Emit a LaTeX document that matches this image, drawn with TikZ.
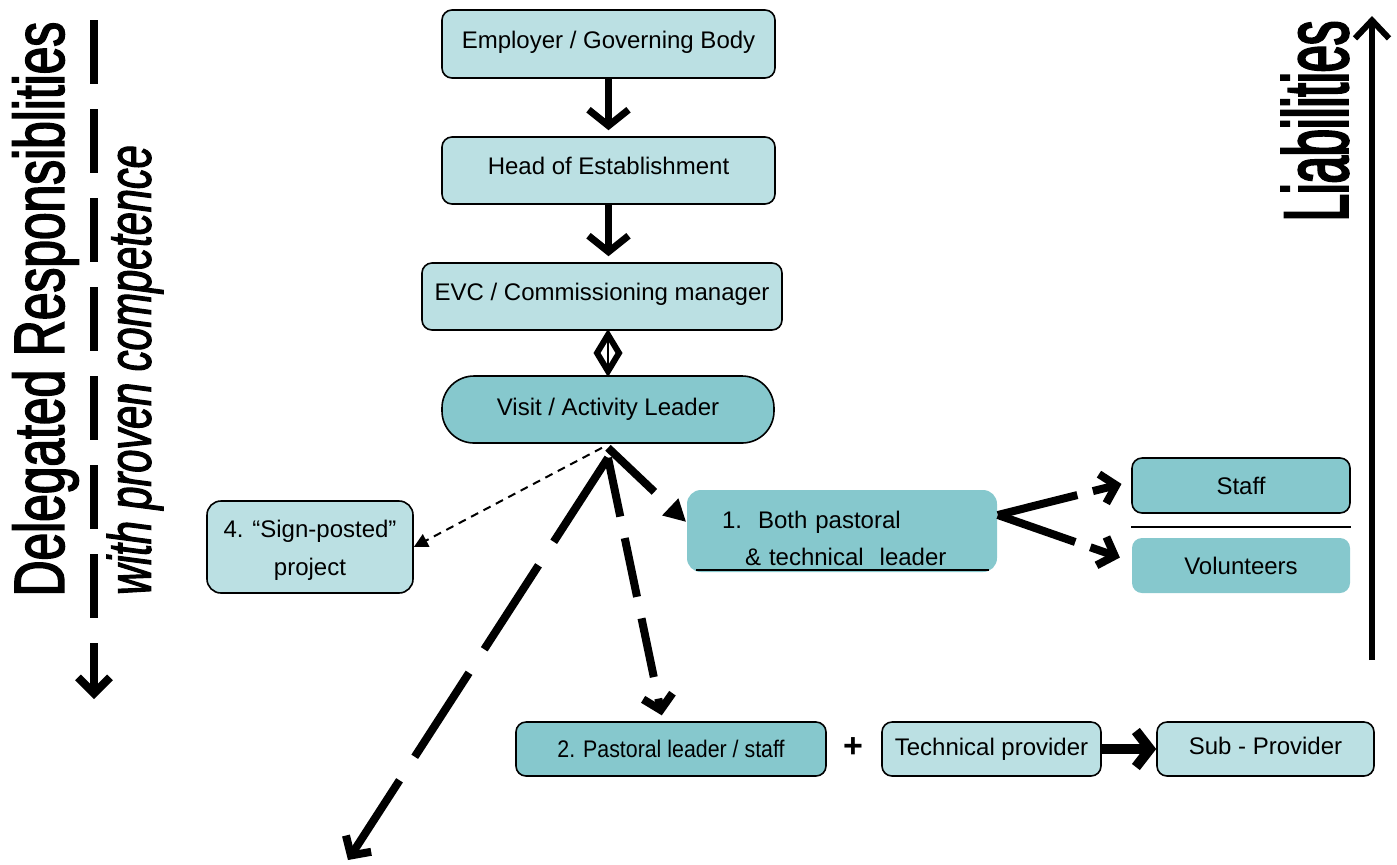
\documentclass[tikz,border=0pt]{standalone}
\usepackage{fontspec}
\setmainfont{Liberation Sans}
\newfontfamily\delfont[FakeStretch=0.70,FakeBold=2.2]{Liberation Sans}
\newfontfamily\withfont[FakeStretch=0.68,FakeBold=1.8]{Liberation Sans}
\newfontfamily\liabfont[FakeStretch=0.53,FakeBold=2.3]{Liberation Sans}
\newfontfamily\narrowfont[FakeStretch=0.89]{Liberation Sans}
\usetikzlibrary{arrows.meta,calc}
\definecolor{lightc}{RGB}{187,224,227}
\definecolor{darkc}{RGB}{134,200,205}
\tikzset{
  box/.style={draw=black, line width=0.8pt, rounded corners=5pt, inner sep=0pt, align=center,
              font=\fontsize{12}{14}\selectfont},
  lightbox/.style={fill=lightc},
  darkbox/.style={fill=darkc},
  topbox/.style={text height=9pt, text depth=5pt},
  chev/.style={-{Straight Barb[length=8pt,width=20pt]}},
  thickarr/.style={line width=3.5pt, chev},
  bigdash/.style={line width=4pt, -{Straight Barb[length=7pt,width=15pt]}},
  thindash/.style={line width=1pt, dash pattern=on 4pt off 3pt, -{Triangle[length=7pt,width=7pt]}},
}
\begin{document}
\begin{tikzpicture}[x=0.5pt,y=-0.5pt]
\useasboundingbox (0,0) rectangle (1397,864);

% side labels
\node[rotate=90, font=\delfont\fontsize{35.5}{36}\selectfont, inner sep=0pt] (deleg) at (45.5,309) {Delegated Responsiblities};
\node[rotate=90, font=\withfont\itshape\fontsize{30.5}{31}\selectfont, inner sep=0pt] (withp) at (135,370) {with proven competence};
\node[rotate=90, font=\liabfont\fontsize{46}{46}\selectfont, inner sep=0pt] (liab) at (1315,121) {Liabilities};

% left axis
\coordinate (ltop) at (94,20);
\coordinate (lbot) at (94,699);
\draw[line width=4pt, dash pattern=on 32pt off 12.5pt, -{Straight Barb[length=8pt,width=16pt]}] (ltop) -- (lbot);
% right axis
\coordinate (rbot) at (1372,660);
\coordinate (rtop) at (1372,16);
\draw[line width=3pt, -{Straight Barb[length=9pt,width=17pt]}] (rbot) -- (rtop);

% main boxes
\node[box,lightbox,topbox,minimum width=166.5pt,minimum height=34pt] (emp) at (608.5,44) {Employer / Governing Body};
\node[box,lightbox,topbox,minimum width=166.5pt,minimum height=33.5pt] (head) at (608.5,170.5) {Head of Establishment};
\node[box,lightbox,topbox,minimum width=180pt,minimum height=33.5pt] (evc) at (602,296.5) {EVC / Commissioning manager};
\node[box,darkbox,rounded corners=16pt,minimum width=166pt,minimum height=33.5pt] (visit) at (608,409.5) {Visit / Activity Leader};
\node[box,lightbox,rounded corners=7pt,minimum width=103pt,minimum height=46pt] (sign) at (310,547) {\rule{0pt}{12pt}4. “Sign-posted”\\[5pt]project};
\node[box,darkbox,draw=none,rounded corners=7pt,minimum width=155pt,minimum height=41pt,text width=120pt,inner xsep=17.5pt,align=left,text depth=11pt] (both) at (842,531) {1.\ \ Both pastoral\\[4.5pt]\hspace*{11.5pt}\& technical\ \ leader};
\node[box,darkbox,minimum width=109pt,minimum height=27.5pt] (staff) at (1241,485.5) {Staff};
\node[box,darkbox,draw=none,minimum width=109pt,minimum height=27.5pt] (vol) at (1241,565.5) {Volunteers};
\node[box,darkbox,minimum width=155pt,minimum height=27pt,font=\narrowfont\fontsize{12}{14}\selectfont] (past) at (671,749) {2. Pastoral leader / staff};
\node[font=\fontsize{17}{17}\selectfont\bfseries, inner sep=0pt] (plus) at (853,748) {+};
\node[box,lightbox,minimum width=109.5pt,minimum height=27pt] (tech) at (991.5,749) {Technical provider};
\node[box,lightbox,minimum width=108.5pt,minimum height=27pt,text height=9pt,text depth=4pt] (sub) at (1265.5,749) {Sub - Provider};

% underline in box 1 and separator
\draw[line width=1pt] ([xshift=5pt,yshift=1.5pt]both.south west) -- ([xshift=-4.5pt,yshift=1.5pt]both.south east);
\draw[line width=1pt] ([yshift=-6.5pt]staff.south west) -- ([yshift=-6.5pt]staff.south east);

% vertical chain
\draw[thickarr, shorten >=3pt] (emp.south) -- (head.north);
\draw[thickarr, shorten >=3pt] (head.south) -- (head.south |- evc.north);
% double arrow (diamond) between EVC and Visit
\coordinate (dtop) at ([yshift=-2pt]evc.south -| visit.north);
\coordinate (dbot) at ([yshift=2pt]visit.north);
\coordinate (dmid) at ($(dtop)!0.5!(dbot)$);
\draw[line width=3pt, line join=miter] (dtop) -- ($(dmid)+(11,0)$) -- (dbot) -- ($(dmid)+(-11,0)$) -- cycle;
\draw[line width=0.8pt] ($(dtop)+(0,6)$) -- ($(dbot)+(0,-6)$);

% from visit leader
\coordinate (apex) at ([yshift=-7pt]visit.south);
\coordinate (farleft) at (348,860);
\draw[thindash] ([xshift=-3pt,yshift=-2pt]visit.south) -- (sign.east);
\draw[line width=4pt, dash pattern=on 32pt off 40pt, -{Triangle[length=11pt,width=11pt]}] ([yshift=-2pt]visit.south) -- ([yshift=4.5pt]both.west);
\draw[bigdash, dash pattern=on 30pt off 11pt, shorten >=3pt] (apex) -- ([xshift=-4pt]past.north);
\draw[bigdash, dash pattern=on 50pt off 14pt] (apex) -- (farleft);

% from box 1 to staff / volunteers
\draw[bigdash, dash pattern=on 41pt off 8pt, shorten >=5pt] ([yshift=8pt]both.east) -- ([yshift=2pt]staff.west);
\draw[bigdash, dash pattern=on 41pt off 8pt, shorten >=6pt] ([yshift=8pt]both.east) -- ([yshift=2pt]vol.west);

% technical provider to sub-provider
\draw[line width=5pt, -{Straight Barb[length=7pt,width=18pt]}] (tech.east) -- (sub.west);
\end{tikzpicture}
\end{document}
